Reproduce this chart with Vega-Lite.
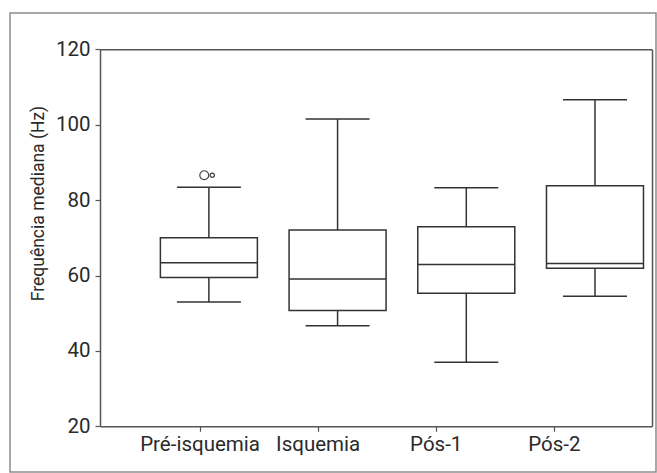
{
  "$schema": "https://vega.github.io/schema/vega-lite/v6.json",
  "width": 646,
  "height": 459,
  "autosize": {"type": "none"},
  "padding": {"left": 10, "top": 13, "right": 1, "bottom": 1},
  "background": "white",
  "view": {"stroke": "#8c8c8c", "strokeWidth": 1.5, "fill": "white"},
  "config": {
    "font": "Roboto, sans-serif",
    "axis": {
      "grid": false,
      "domainColor": "#555555",
      "domainWidth": 1.5,
      "tickColor": "#555555",
      "tickWidth": 1.2,
      "tickSize": 5,
      "labelFont": "Roboto, sans-serif",
      "labelFontSize": 20.5,
      "labelFontWeight": "normal",
      "labelColor": "#2a2a2a",
      "titleFont": "Roboto, sans-serif",
      "titleColor": "#2a2a2a",
      "titleFontWeight": "normal"
    }
  },
  "datasets": {
    "resumo": [
      {"grupo": "Pré-isquemia", "inferior": 53.0, "q1": 59.5, "mediana": 63.4, "q3": 70.0, "superior": 83.4},
      {"grupo": "Isquemia", "inferior": 46.7, "q1": 50.7, "mediana": 59.1, "q3": 72.1, "superior": 101.5},
      {"grupo": "Pós-1", "inferior": 37.0, "q1": 55.3, "mediana": 62.9, "q3": 72.9, "superior": 83.3},
      {"grupo": "Pós-2", "inferior": 54.5, "q1": 61.9, "mediana": 63.2, "q3": 83.8, "superior": 106.6}
    ],
    "atipicos": [
      {"grupo": "Pré-isquemia", "caso": "a", "valor": 86.6},
      {"grupo": "Pré-isquemia", "caso": "b", "valor": 86.6}
    ]
  },
  "layer": [
    {
      "encoding": {
        "x": {
          "field": "grupo",
          "type": "nominal",
          "sort": ["Pré-isquemia", "Isquemia", "Pós-1", "Pós-2"],
          "scale": {"type": "band", "domain": ["Pré-isquemia", "Isquemia", "Pós-1", "Pós-2"], "range": [90, 642], "paddingInner": 0.114, "paddingOuter": 0.2015, "align": 1},
          "axis": {"orient": "top", "offset": -36.3, "labels": false, "ticks": false, "title": null}
        }
      },
      "layer": [
        {
          "data": {"name": "resumo"},
          "mark": {"type": "rule", "color": "#333333", "strokeWidth": 1.5},
          "encoding": {
            "y": {
              "field": "inferior",
              "type": "quantitative",
              "scale": {"domain": [20, 120], "range": [413.3, 36.3], "nice": false, "zero": false},
              "axis": {
                "orient": "left",
                "offset": -90,
                "values": [20, 40, 60, 80, 100, 120],
                "labelPadding": 5,
                "title": "Frequência mediana (Hz)",
                "titleFontSize": 17.5,
                "titleX": -57,
                "titleY": 190,
                "titleAngle": 270,
                "titleAlign": "center",
                "titleBaseline": "alphabetic"
              }
            },
            "y2": {"field": "superior"}
          }
        },
        {
          "data": {"name": "resumo"},
          "mark": {"type": "bar", "size": 97, "fill": "white", "stroke": "#333333", "strokeWidth": 1.5},
          "encoding": {
            "y": {"field": "q1", "type": "quantitative"},
            "y2": {"field": "q3"}
          }
        },
        {
          "data": {"name": "resumo"},
          "mark": {"type": "tick", "size": 97, "thickness": 1.5, "color": "#333333", "opacity": 1},
          "encoding": {"y": {"field": "mediana", "type": "quantitative"}}
        },
        {
          "data": {"name": "resumo"},
          "mark": {"type": "tick", "size": 64, "thickness": 1.5, "color": "#333333", "opacity": 1},
          "encoding": {"y": {"field": "superior", "type": "quantitative"}}
        },
        {
          "data": {"name": "resumo"},
          "mark": {"type": "tick", "size": 64, "thickness": 1.5, "color": "#333333", "opacity": 1},
          "encoding": {"y": {"field": "inferior", "type": "quantitative"}}
        },
        {
          "data": {"name": "atipicos"},
          "mark": {"type": "point", "shape": "circle", "filled": false, "stroke": "#444444", "strokeWidth": 1.2, "opacity": 1},
          "encoding": {
            "y": {"field": "valor", "type": "quantitative"},
            "xOffset": {"field": "caso", "type": "nominal", "scale": {"type": "point", "range": [52.4, 60.4], "padding": 0}},
            "size": {"field": "caso", "type": "ordinal", "scale": {"range": [80, 18]}, "legend": null}
          }
        }
      ]
    },
    {
      "data": {"name": "resumo"},
      "mark": {"type": "point", "opacity": 0},
      "encoding": {
        "x": {
          "field": "grupo",
          "type": "nominal",
          "sort": ["Pré-isquemia", "Isquemia", "Pós-1", "Pós-2"],
          "scale": {"type": "band", "domain": ["Pré-isquemia", "Isquemia", "Pós-1", "Pós-2"], "range": [90, 642], "paddingInner": 0, "paddingOuter": 0.337, "align": 0.515},
          "axis": {"orient": "bottom", "offset": -45.7, "labelAngle": 0, "labelPadding": 3, "title": null}
        },
        "y": {
          "field": "mediana",
          "type": "quantitative",
          "axis": {"orient": "right", "offset": -4, "labels": false, "ticks": false, "title": null}
        }
      }
    }
  ],
  "resolve": {"scale": {"x": "independent"}, "axis": {"y": "independent"}}
}
